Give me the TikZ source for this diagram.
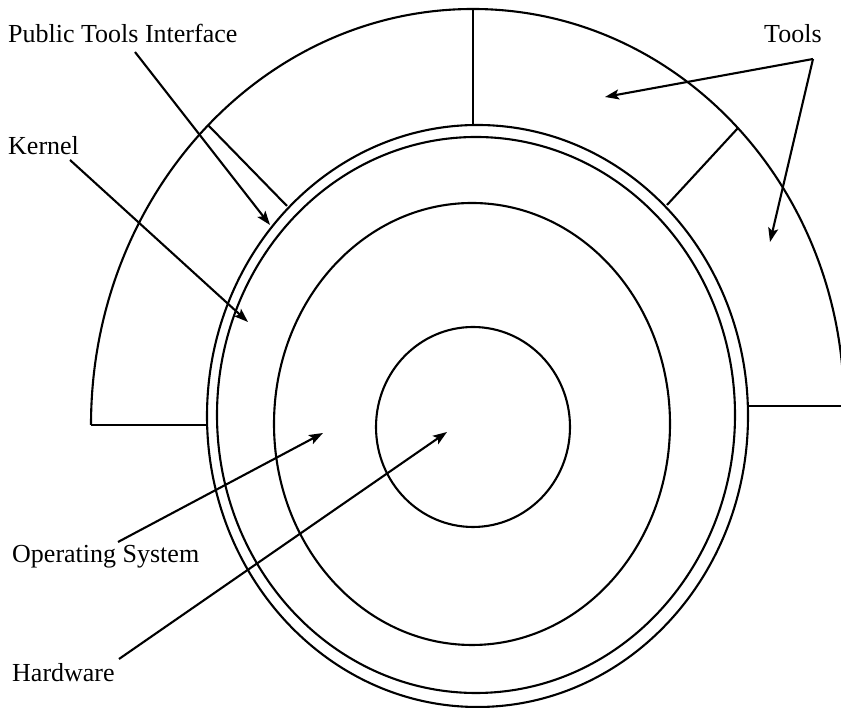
\documentclass[tikz,border=0pt]{standalone}
\usepackage{fontspec}
\setmainfont{Liberation Serif}
\usetikzlibrary{arrows.meta}
\begin{document}
\begin{tikzpicture}[x=1pt,y=1pt,
  ln/.style={line width=2.1pt, draw=black},
  arr/.style={ln, -{Stealth[length=14pt,width=10pt,inset=3pt]}},
  lbl/.style={anchor=base west, inner sep=0pt, font=\fontsize{26}{31}\selectfont}]
\useasboundingbox (0,0) rectangle (841,708);
% concentric rings
\draw[ln] (473,281) ellipse [x radius=97, y radius=100];
\draw[ln] (472,284) ellipse [x radius=198, y radius=221];
\draw[ln] (476,293) ellipse [x radius=259, y radius=278];
\draw[ln] (477.5,292) ellipse [x radius=270.5, y radius=291];
% tools ring outer arc
\coordinate (arcL) at (91,283);
\coordinate (arcR) at (845,302);
\draw[ln] (arcL) arc[start angle=180,end angle=90,x radius=382,y radius=416]
                 arc[start angle=90,end angle=0,x radius=371,y radius=397];
% dividers of the tools ring
\coordinate (pL) at (207,283);
\coordinate (pR) at (748,302);
\coordinate (topO) at (473,699);
\coordinate (topI) at (473,583);
\coordinate (ulO) at (208,583);
\coordinate (ulI) at (287,502);
\coordinate (urO) at (738,580);
\coordinate (urI) at (667,503);
\draw[ln] (arcL) -- (pL);
\draw[ln] (pR) -- (arcR);
\draw[ln] (topO) -- (topI);
\draw[ln] (ulO) -- (ulI);
\draw[ln] (urO) -- (urI);
% labels
\node[lbl] (pti) at (8,665) {Public Tools Interface};
\node[lbl] (ker) at (8,553) {Kernel};
\node[lbl] (tools) at (764,665) {Tools};
\node[lbl] (os) at (12,145) {Operating System};
\node[lbl] (hw) at (12,26) {Hardware};
% arrow ends
\coordinate (ptiS) at (135,656);
\coordinate (ptiT) at (270,483);
\coordinate (kerS) at (70,548);
\coordinate (kerT) at (248,386);
\coordinate (toolsS) at (813,649);
\coordinate (toolsA) at (605,611);
\coordinate (toolsB) at (770,466);
\coordinate (osS) at (118,166);
\coordinate (osT) at (323,275);
\coordinate (hwS) at (119,49);
\coordinate (hwT) at (447,276);
% arrows
\draw[arr] (ptiS) -- (ptiT);
\draw[arr] (kerS) -- (kerT);
\draw[arr] (toolsS) -- (toolsA);
\draw[arr] (toolsS) -- (toolsB);
\draw[arr] (osS) -- (osT);
\draw[arr] (hwS) -- (hwT);
\end{tikzpicture}
\end{document}
